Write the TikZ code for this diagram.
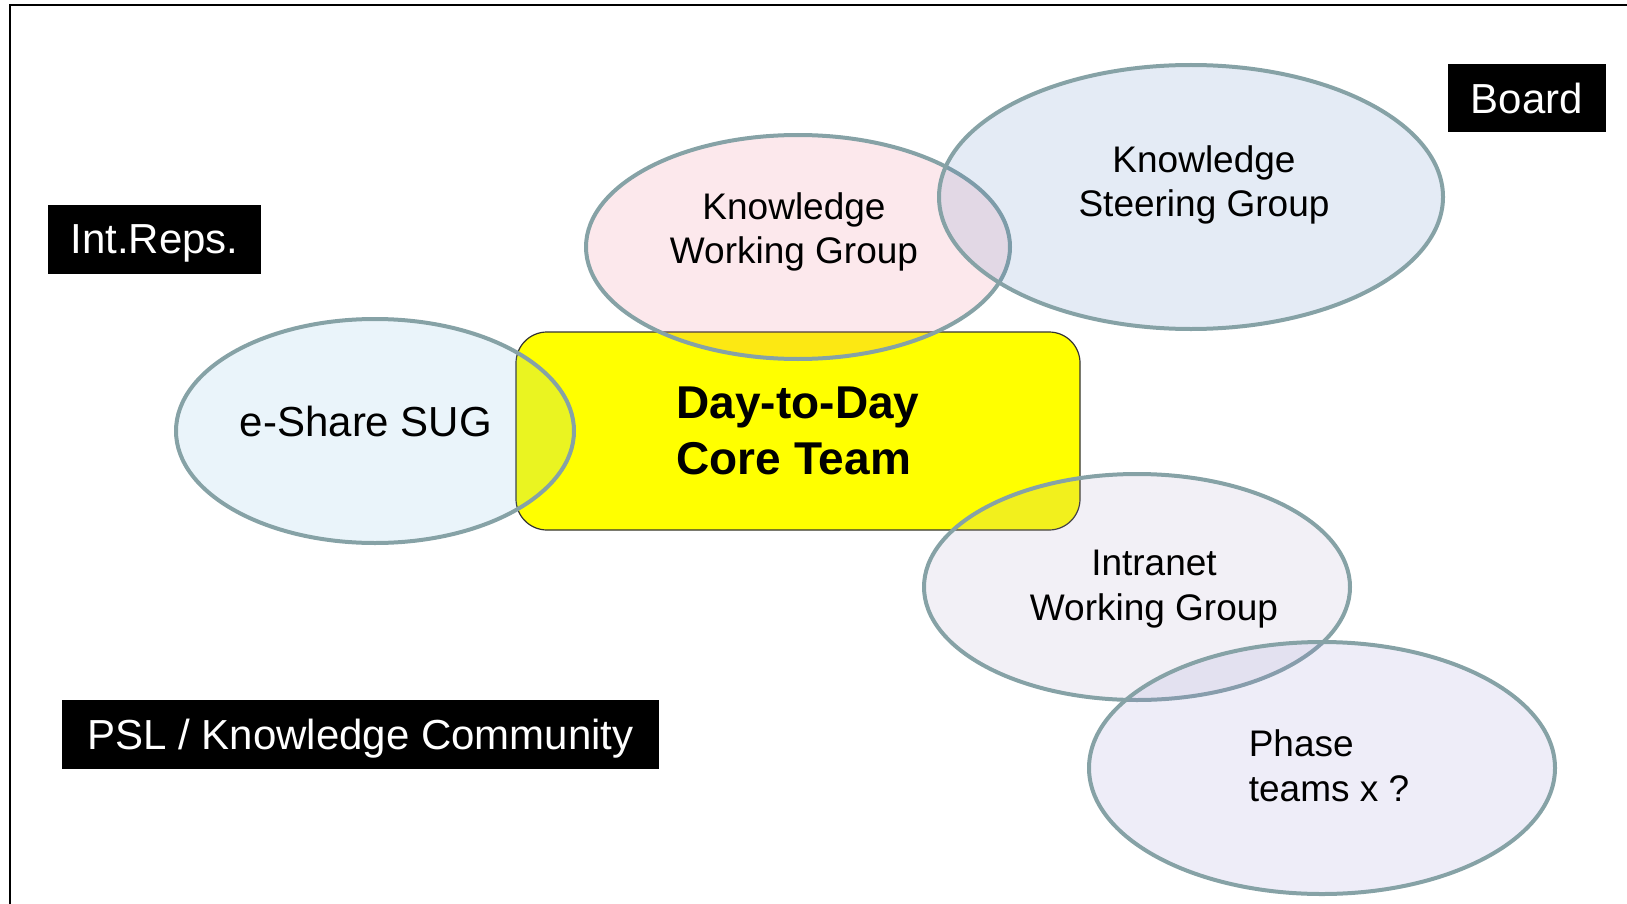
\documentclass[tikz,border=0pt]{standalone}
\usepackage{fontspec}
\setmainfont{Liberation Sans}
\usetikzlibrary{shapes.geometric}

\definecolor{ringline}{RGB}{134,162,166}
\definecolor{sugfill}{RGB}{115,182,222}
\definecolor{kwgfill}{RGB}{235,102,128}
\definecolor{ksgfill}{RGB}{75,122,188}
\definecolor{iwgfill}{RGB}{168,155,195}
\definecolor{phasefill}{RGB}{142,135,208}
\definecolor{coreyellow}{RGB}{255,255,0}

\tikzset{
	group/.style={ellipse, draw=ringline, line width=2pt, fill opacity=0.15, inner sep=0pt},
	grouptext/.style={align=center, font=\fontsize{18.5}{22.3}\selectfont},
	tag/.style={fill=black, text=white, inner sep=0pt, text depth=0pt, font=\fontsize{21}{25}\selectfont},
	core/.style={rectangle, rounded corners=15.5pt, fill=coreyellow, draw=black!80, line width=0.6pt,
		align=left, font=\fontsize{23}{28}\selectfont\bfseries}
}

\begin{document}
\begin{tikzpicture}[x=0.5pt,y=-0.5pt]
		\useasboundingbox (0,0) rectangle (1627,904);
		\draw[line width=1pt] (10,904) -- (10,5) -- (1627,5);

		% core team
		\node[core, minimum width=282pt, minimum height=99pt] (core) at (798,431) {Day-to-Day\\Core Team};

		% groups
		\node[group, fill=sugfill, minimum width=199pt, minimum height=112pt] (sug) at (375,431) {};
		\node[group, fill=kwgfill, minimum width=212pt, minimum height=112pt] (kwg) at (798,247) {};
		\node[group, fill=ksgfill, minimum width=252pt, minimum height=132pt] (ksg) at (1191,197) {};
		\node[group, fill=iwgfill, minimum width=213pt, minimum height=113pt] (iwg) at (1137,587) {};
		\node[group, fill=phasefill, minimum width=233pt, minimum height=126pt] (phase) at (1322,768) {};

		\node[grouptext, font=\fontsize{21}{25}\selectfont] (sugtext) at (366,421) {e-Share SUG};
		\node[grouptext] (kwgtext) at (794,232) {Knowledge\\Working Group};
		\node[grouptext] (ksgtext) at (1204,185) {Knowledge\\Steering Group};
		\node[grouptext] (iwgtext) at (1154,589) {Intranet\\Working Group};
		\node[grouptext, align=left] (phasetext) at (1329,766) {Phase\\teams x ?};

		% black tags
		\node[tag, minimum width=106.5pt, minimum height=34.5pt] (intreps) at (154.5,239.5) {Int.Reps.};
		\node[tag, minimum width=79pt, minimum height=34pt] (board) at (1527,98) {Board};
		\node[tag, minimum width=298.5pt, minimum height=34.5pt] (psl) at (360.5,734.5) {PSL / Knowledge Community};
	\end{tikzpicture}
\end{document}
